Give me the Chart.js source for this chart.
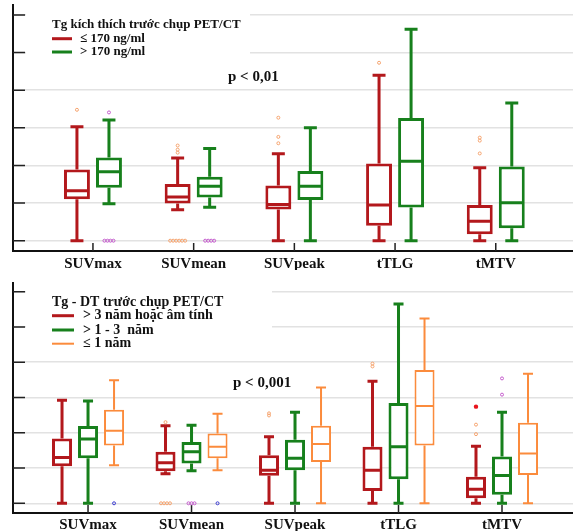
<!DOCTYPE html>
<html>
<head>
<meta charset="utf-8">
<script src="https://cdn.jsdelivr.net/npm/chart.js@4.4.1/dist/chart.umd.min.js"></script>
<style>
  html, body { margin: 0; padding: 0; background: #fff; }
  canvas { position: absolute; left: 0; }
</style>
</head>
<body>
<canvas id="topChart" width="573" height="270" style="top:0"></canvas>
<canvas id="bottomChart" width="573" height="261" style="top:270px"></canvas>
<script>
// categories and y grid ticks (no labels on y in the source)
var categories = ['SUVmax', 'SUVmean', 'SUVpeak', 'tTLG', 'tMTV'];
var yTicks = [0, 1, 2, 3, 4, 5, 6];

// ---- top chart: Tg kich thich ----
var topTitle = 'Tg kích thích trước chụp PET/CT';
var topP = 'p < 0,01';
var topNames = ['≤ 170 ng/ml', '> 170 ng/ml'];

var lowMin = [0, 0.82, 0, 0, 0];
var lowQ1 = [1.10, 0.99, 0.83, 0.40, 0.17];
var lowMed = [1.33, 1.16, 0.96, 0.95, 0.52];
var lowQ3 = [1.89, 1.51, 1.47, 2.05, 0.95];
var lowMax = [3.03, 2.20, 2.31, 4.40, 1.94];
var lowOut = [[3.48], [2.53, 2.42, 2.34, 0, 0, 0, 0, 0, 0], [3.27, 2.76, 2.59], [4.73], [2.74, 2.66, 2.32]];

var highMin = [0.98, 0.89, 0, 0, 0];
var highQ1 = [1.41, 1.15, 1.08, 0.88, 0.33];
var highMed = [1.83, 1.45, 1.45, 2.11, 1.01];
var highQ3 = [2.21, 1.70, 1.85, 3.26, 1.97];
var highMax = [3.21, 2.45, 3.00, 5.62, 3.66];
var highOut = [[3.41, 0, 0, 0, 0], [0, 0, 0, 0], [], [], []];

// ---- bottom chart: Tg - DT ----
var botTitle = 'Tg - DT trước chụp PET/CT';
var botP = 'p < 0,001';
var botNames = ['> 3 năm hoặc âm tính', '> 1 - 3  năm', '≤ 1 năm'];

var slowMin = [0, 0.84, 0, 0, 0];
var slowQ1 = [1.05, 0.91, 0.78, 0.35, 0.14];
var slowMed = [1.30, 1.15, 0.94, 0.94, 0.40];
var slowQ3 = [1.84, 1.46, 1.36, 1.60, 0.75];
var slowMax = [2.92, 2.20, 1.89, 3.46, 1.62];
var slowOut = [[], [2.30, 0, 0, 0, 0], [2.55, 2.49], [3.96, 3.88], [2.23, 1.96]];
var slowExt = [[], [], [], [], [2.74]];

var midMin = [0, 0.92, 0, 0, 0];
var midQ1 = [1.28, 1.13, 0.94, 0.68, 0.24];
var midMed = [1.82, 1.46, 1.28, 1.60, 0.79];
var midQ3 = [2.19, 1.74, 1.80, 2.84, 1.33];
var midMax = [2.90, 2.21, 2.58, 5.65, 2.58];
var midOut = [[], [0, 0, 0], [], [], [3.54, 3.08]];

var fastMin = [1.08, 0.94, 0, 0, 0];
var fastQ1 = [1.64, 1.28, 1.17, 1.64, 0.80];
var fastMed = [2.06, 1.60, 1.68, 2.76, 1.41];
var fastQ3 = [2.65, 1.98, 2.20, 3.78, 2.28];
var fastMax = [3.49, 2.54, 3.28, 5.24, 3.67];
var fastOut = [[0], [0], [], [], []];

var RED = '#b3181c', GREEN = '#17801c', ORANGE = '#fb8b3c';
var SERIF = '"Liberation Serif", "Times New Roman", serif';

function boxDataset(label, color, lw, outColor, mn, q1, md, q3, mx, out, ext) {
    return {
        label: label,
        data: categories.map(function (c, i) { return { x: i, y: [q1[i], q3[i]] }; }),
        backgroundColor: '#ffffff',
        borderColor: color,
        borderWidth: lw,
        borderSkipped: false,
        box: { min: mn, med: md, max: mx, q1: q1, q3: q3, out: out,
               ext: ext || categories.map(function () { return []; }), outColor: outColor }
    };
}

// whiskers, medians and outliers on top of the floating bars
var boxPlugin = {
    id: 'boxParts',
    afterDatasetsDraw: function (chart) {
        var ctx = chart.ctx, ys = chart.scales.y;
        chart.data.datasets.forEach(function (ds, di) {
            var meta = chart.getDatasetMeta(di), b = ds.box;
            meta.data.forEach(function (el, i) {
                var x = el.x, w = el.width, cap = w * 0.5;
                var yMax = ys.getPixelForValue(b.max[i]), yMin = ys.getPixelForValue(b.min[i]);
                ctx.save();
                ctx.strokeStyle = ds.borderColor;
                ctx.lineWidth = ds.borderWidth;
                ctx.beginPath();
                ctx.moveTo(x, ys.getPixelForValue(b.q3[i])); ctx.lineTo(x, yMax);
                ctx.moveTo(x, ys.getPixelForValue(b.q1[i])); ctx.lineTo(x, yMin);
                ctx.moveTo(x - cap / 2, yMax); ctx.lineTo(x + cap / 2, yMax);
                ctx.moveTo(x - cap / 2, yMin); ctx.lineTo(x + cap / 2, yMin);
                var yMed = ys.getPixelForValue(b.med[i]);
                ctx.moveTo(x - w / 2 + 1, yMed); ctx.lineTo(x + w / 2 - 1, yMed);
                ctx.stroke();

                // tied outliers are placed side by side
                var counts = {};
                b.out[i].forEach(function (v) { counts[v] = (counts[v] || 0) + 1; });
                ctx.strokeStyle = b.outColor;
                ctx.lineWidth = 1;
                Object.keys(counts).forEach(function (k) {
                    var n = counts[k], py = ys.getPixelForValue(+k);
                    for (var j = 0; j < n; j++) {
                        ctx.beginPath();
                        ctx.arc(x + (j - (n - 1) / 2) * 3, py, 1.5, 0, Math.PI * 2);
                        ctx.stroke();
                    }
                });
                b.ext[i].forEach(function (v) {
                    ctx.fillStyle = '#e8141c';
                    ctx.beginPath();
                    ctx.arc(x, ys.getPixelForValue(v), 2.2, 0, Math.PI * 2);
                    ctx.fill();
                });
                ctx.restore();
            });
        });
    }
};

// inner tick marks, legend box and p-value label
var overlayPlugin = {
    id: 'overlay',
    beforeDatasetsDraw: function (chart, args, o) {
        var ctx = chart.ctx, a = chart.chartArea, ys = chart.scales.y, xs = chart.scales.x;
        ctx.save();
        ctx.fillStyle = '#fff';
        ctx.fillRect(o.box[0], o.box[1], o.box[2] - o.box[0], o.box[3] - o.box[1]);

        ctx.strokeStyle = '#222';
        ctx.lineWidth = 1.5;
        ctx.beginPath();
        yTicks.forEach(function (v) {
            var py = ys.getPixelForValue(v);
            ctx.moveTo(a.left, py); ctx.lineTo(a.left + 12, py);
        });
        categories.forEach(function (c, i) {
            var px = xs.getPixelForValue(i);
            ctx.moveTo(px, a.bottom); ctx.lineTo(px, a.bottom - 8);
        });
        ctx.stroke();

        ctx.fillStyle = '#111';
        ctx.textBaseline = 'middle';
        ctx.font = 'bold ' + o.size + 'px ' + SERIF;
        ctx.fillText(o.title, o.x, o.titleY);
        chart.data.datasets.forEach(function (ds, i) {
            var yy = o.itemY[i];
            ctx.strokeStyle = ds.borderColor;
            ctx.lineWidth = ds.borderWidth;
            ctx.beginPath();
            ctx.moveTo(o.x, yy); ctx.lineTo(o.x + o.lineLen, yy);
            ctx.stroke();
            ctx.fillStyle = '#111';
            ctx.fillText(ds.label, o.textX, yy);
        });
        ctx.font = 'bold 15px ' + SERIF;
        ctx.fillText(o.p, o.pX, o.pY);
        ctx.restore();
    }
};

function makeChart(id, datasets, cfg) {
    var ctx = document.getElementById(id).getContext('2d');
    return new Chart(ctx, {
        type: 'bar',
        data: { datasets: datasets },
        plugins: [overlayPlugin, boxPlugin],
        options: {
            responsive: false,
            animation: false,
            layout: { padding: { left: 13, top: cfg.top, right: 0, bottom: 0 } },
            datasets: { bar: { categoryPercentage: cfg.catPct, barPercentage: cfg.barPct } },
            plugins: {
                legend: { display: false },
                tooltip: { enabled: false },
                overlay: cfg.overlay
            },
            scales: {
                x: {
                    type: 'linear',
                    offset: false,
                    min: cfg.xMin,
                    max: cfg.xMax,
                    afterBuildTicks: function (s) { s.ticks = categories.map(function (c, i) { return { value: i }; }); },
                    afterFit: function (s) { s.height = cfg.xHeight; },
                    ticks: {
                        callback: function (v) { return categories[v]; },
                        font: { family: SERIF, size: 15, weight: 'bold' },
                        color: '#111',
                        padding: cfg.labelPad,
                        autoSkip: false,
                        maxRotation: 0
                    },
                    grid: { display: false, offset: false },
                    border: { color: '#111', width: 2 }
                },
                y: {
                    min: cfg.yMin,
                    max: cfg.yMax,
                    afterBuildTicks: function (s) { s.ticks = yTicks.map(function (v) { return { value: v }; }); },
                    ticks: { display: false },
                    grid: { color: '#e2e2e2', lineWidth: 1.5, drawTicks: false },
                    border: { color: '#111', width: 2 }
                }
            }
        }
    });
}

makeChart('topChart', [
    boxDataset(topNames[0], RED, 3, '#f5a36e', lowMin, lowQ1, lowMed, lowQ3, lowMax, lowOut),
    boxDataset(topNames[1], GREEN, 3, '#c45ccc', highMin, highQ1, highMed, highQ3, highMax, highOut)
], {
    top: 5, xHeight: 19, labelPad: -4, xMin: -0.794, xMax: 4.767, yMin: -0.274, yMax: 6.266,
    catPct: 0.636, barPct: 0.81,
    overlay: { box: [26, 8, 250, 60], title: topTitle, size: 13, x: 52, titleY: 25, itemY: [38.7, 52],
               lineLen: 20, textX: 80, p: topP, pX: 228, pY: 76.7 }
});

makeChart('bottomChart', [
    boxDataset(botNames[0], RED, 3, '#f5a36e', slowMin, slowQ1, slowMed, slowQ3, slowMax, slowOut, slowExt),
    boxDataset(botNames[1], GREEN, 3, '#c45ccc', midMin, midQ1, midMed, midQ3, midMax, midOut),
    boxDataset(botNames[2], ORANGE, 2, '#3a3ad0', fastMin, fastQ1, fastMed, fastQ3, fastMax, fastOut)
], {
    top: 13, xHeight: 18, labelPad: -5, xMin: -0.725, xMax: 4.686, yMin: -0.275, yMax: 6.245,
    catPct: 0.754, barPct: 0.77,
    overlay: { box: [26, 18, 272, 82], title: botTitle, size: 14, x: 52, titleY: 32.3, itemY: [45.7, 60, 73.7],
               lineLen: 22, textX: 83, p: botP, pX: 233, pY: 113.3 }
});
</script>
</body>
</html>
